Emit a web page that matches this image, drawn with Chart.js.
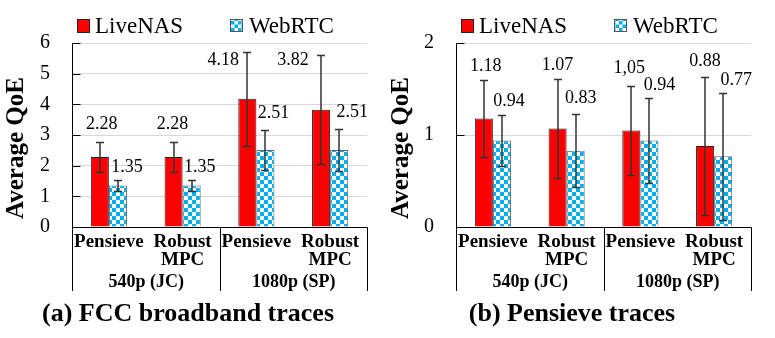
<!DOCTYPE html>
<html>
<head>
<meta charset="utf-8">
<script src="https://cdn.jsdelivr.net/npm/chart.js@4"></script>
<style>
  body { margin: 0; background: #fff; }
  #wrap { display: flex; width: 775px; height: 338px; }
  canvas { display: block; }
</style>
</head>
<body>
<div id="wrap">
  <canvas id="fcc" width="388" height="338"></canvas>
  <canvas id="pen" width="387" height="338"></canvas>
</div>
<script>
const categories = [['Pensieve'], ['Robust', 'MPC'], ['Pensieve'], ['Robust', 'MPC']];
const groups = ['540p (JC)', '1080p (SP)'];
const seriesNames = ['LiveNAS', 'WebRTC'];

// (a) FCC broadband traces
const fccLiveNAS = [2.28, 2.28, 4.18, 3.82];
const fccLiveNASErr = [0.48, 0.48, 1.53, 1.78];
const fccWebRTC = [1.35, 1.35, 2.51, 2.51];
const fccWebRTCErr = [0.19, 0.19, 0.66, 0.68];

// (b) Pensieve traces
const penLiveNAS = [1.18, 1.07, 1.05, 0.88];
const penLiveNASErr = [0.42, 0.54, 0.48, 0.75];
const penLiveNASText = ['1.18', '1.07', '1,05', '0.88'];
const penWebRTC = [0.94, 0.83, 0.94, 0.77];
const penWebRTCErr = [0.28, 0.40, 0.46, 0.69];

// where each value label sits, relative to bar centre / error bar top
const fccLabelOffsets = [[[2, -18], [-1, -18], [-24, 8], [-28, 5]], [[9, -13], [8, -13], [8, -17], [13, -17]]];
const penLabelOffsets = [[[2, -14], [0, -14], [-2, -18], [0, -16]], [[7, -13], [5, -16], [10, -13], [13, -12]]];

const SERIF = "'Liberation Serif', 'Times New Roman', serif";
const RED = '#FF0000';
const BLUE = '#00B0F0';

function checker(ctx, size) {
    const c = document.createElement('canvas');
    c.width = c.height = size * 2;
    const g = c.getContext('2d');
    g.fillStyle = '#fff';
    g.fillRect(0, 0, size * 2, size * 2);
    g.fillStyle = BLUE;
    g.fillRect(0, 0, size, size);
    g.fillRect(size, size, size, size);
    return ctx.createPattern(c, 'repeat');
}

const decor = {
    id: 'decor',
    afterDatasetsDraw(chart, args, opts) {
        const ctx = chart.ctx, y = chart.scales.y;
        ctx.save();
        chart.data.datasets.forEach((ds, di) => {
            chart.getDatasetMeta(di).data.forEach((bar, i) => {
                const v = ds.data[i], e = ds.err[i];
                const top = Math.round(y.getPixelForValue(v + e)) + 0.5;
                const bot = Math.round(y.getPixelForValue(v - e)) + 0.5;
                const cx = Math.round(bar.x);
                ctx.strokeStyle = '#333';
                ctx.lineWidth = 1.5;
                ctx.beginPath();
                ctx.moveTo(cx, top); ctx.lineTo(cx, bot);
                ctx.moveTo(cx - 4, top); ctx.lineTo(cx + 4, top);
                ctx.moveTo(cx - 4, bot); ctx.lineTo(cx + 4, bot);
                ctx.stroke();

                const off = opts.offsets[di][i];
                ctx.fillStyle = '#000';
                ctx.font = '18px ' + SERIF;
                ctx.textAlign = 'center';
                ctx.textBaseline = 'middle';
                ctx.fillText(ds.text[i], bar.x + off[0], y.getPixelForValue(v + e) + off[1]);
            });
        });
        ctx.restore();
    },
    afterDraw(chart, args, opts) {
        const ctx = chart.ctx, a = chart.chartArea, y = chart.scales.y;
        const L = Math.round(a.left) + 0.5, R = Math.round(a.right) + 0.5;
        const T = Math.round(a.top), B = Math.round(a.bottom) + 0.5;
        const bottomEnd = 291;
        const mid = Math.round((a.left + a.right) / 2) + 0.5;
        ctx.save();
        ctx.strokeStyle = '#000';
        ctx.lineWidth = 1;
        ctx.beginPath();
        ctx.moveTo(L, T); ctx.lineTo(L, bottomEnd);
        ctx.moveTo(L, B); ctx.lineTo(R, B);
        ctx.moveTo(mid, B); ctx.lineTo(mid, bottomEnd);
        ctx.moveTo(R, B); ctx.lineTo(R, bottomEnd);
        y.ticks.forEach(t => {
            const py = Math.round(y.getPixelForValue(t.value)) + 0.5;
            ctx.moveTo(L, py); ctx.lineTo(L + 8, py);
        });
        ctx.stroke();

        // group labels
        ctx.fillStyle = '#000';
        ctx.font = 'bold 18px ' + SERIF;
        ctx.textAlign = 'center';
        ctx.textBaseline = 'middle';
        ctx.fillText(groups[0], (a.left + mid) / 2, 282);
        ctx.fillText(groups[1], (mid + a.right) / 2, 282);

        // caption
        ctx.font = 'bold 26px ' + SERIF;
        ctx.fillText(opts.caption, a.left + 116, 314);

        // y title
        ctx.save();
        ctx.translate(opts.titleX, 148);
        ctx.rotate(-Math.PI / 2);
        ctx.font = 'bold 25px ' + SERIF;
        ctx.fillText('Average QoE', 0, 0);
        ctx.restore();

        // legend
        ctx.font = '23px ' + SERIF;
        ctx.textAlign = 'left';
        ctx.textBaseline = 'alphabetic';
        const lx = a.left;
        ctx.fillStyle = RED;
        ctx.fillRect(lx + 5, 19, 13, 14);
        ctx.strokeStyle = '#222';
        ctx.strokeRect(lx + 5.5, 19.5, 12, 13);
        ctx.fillStyle = '#000';
        ctx.fillText(seriesNames[0], lx + 23, 33);
        ctx.fillStyle = checker(ctx, 3.5);
        ctx.fillRect(lx + 158, 19, 13, 13);
        ctx.strokeStyle = '#555';
        ctx.strokeRect(lx + 158.5, 19.5, 12, 12);
        ctx.fillStyle = '#000';
        ctx.fillText(seriesNames[1], lx + 177, 33);
        ctx.restore();
    }
};

function makeChart(id, cfg) {
    const canvas = document.getElementById(id);
    const ctx = canvas.getContext('2d');
    return new Chart(canvas, {
        type: 'bar',
        data: {
            labels: categories,
            datasets: [
                {
                    label: seriesNames[0],
                    data: cfg.red,
                    err: cfg.redErr,
                    text: cfg.redText,
                    backgroundColor: RED,
                    borderColor: '#222',
                    borderWidth: 1
                },
                {
                    label: seriesNames[1],
                    data: cfg.blue,
                    err: cfg.blueErr,
                    text: cfg.blueText,
                    backgroundColor: checker(ctx, 4),
                    borderColor: '#666',
                    borderWidth: 1
                }
            ]
        },
        options: {
            responsive: false,
            animation: false,
            devicePixelRatio: 1,
            categoryPercentage: 0.49,
            barPercentage: 1,
            layout: { padding: { top: 43, right: cfg.padRight, bottom: 0, left: 0 } },
            plugins: {
                legend: { display: false },
                tooltip: { enabled: false },
                decor: { caption: cfg.caption, offsets: cfg.offsets, titleX: cfg.titleX }
            },
            scales: {
                x: {
                    grid: { display: false },
                    border: { display: false },
                    ticks: {
                        color: '#000',
                        font: { family: SERIF, size: 19, weight: 'bold', lineHeight: 0.9 },
                        padding: -1,
                        maxRotation: 0,
                        autoSkip: false
                    },
                    afterFit: s => { s.height = 111; }
                },
                y: {
                    min: 0,
                    max: cfg.max,
                    grid: { color: '#d9d9d9', drawTicks: false },
                    border: { display: false },
                    ticks: {
                        stepSize: 1,
                        color: '#000',
                        font: { family: SERIF, size: 20 },
                        padding: 22
                    },
                    afterFit: s => { s.width = cfg.plotLeft; }
                }
            }
        },
        plugins: [decor]
    });
}

makeChart('fcc', {
    red: fccLiveNAS, redErr: fccLiveNASErr, redText: fccLiveNAS.map(v => v.toFixed(2)),
    blue: fccWebRTC, blueErr: fccWebRTCErr, blueText: fccWebRTC.map(v => v.toFixed(2)),
    max: 6, plotLeft: 72, padRight: 21, titleX: 17,
    caption: '(a) FCC broadband traces', offsets: fccLabelOffsets
});
makeChart('pen', {
    red: penLiveNAS, redErr: penLiveNASErr, redText: penLiveNASText,
    blue: penWebRTC, blueErr: penWebRTCErr, blueText: penWebRTC.map(v => v.toFixed(2)),
    max: 2, plotLeft: 68, padRight: 24, titleX: 14,
    caption: '(b) Pensieve traces', offsets: penLabelOffsets
});
</script>
</body>
</html>
